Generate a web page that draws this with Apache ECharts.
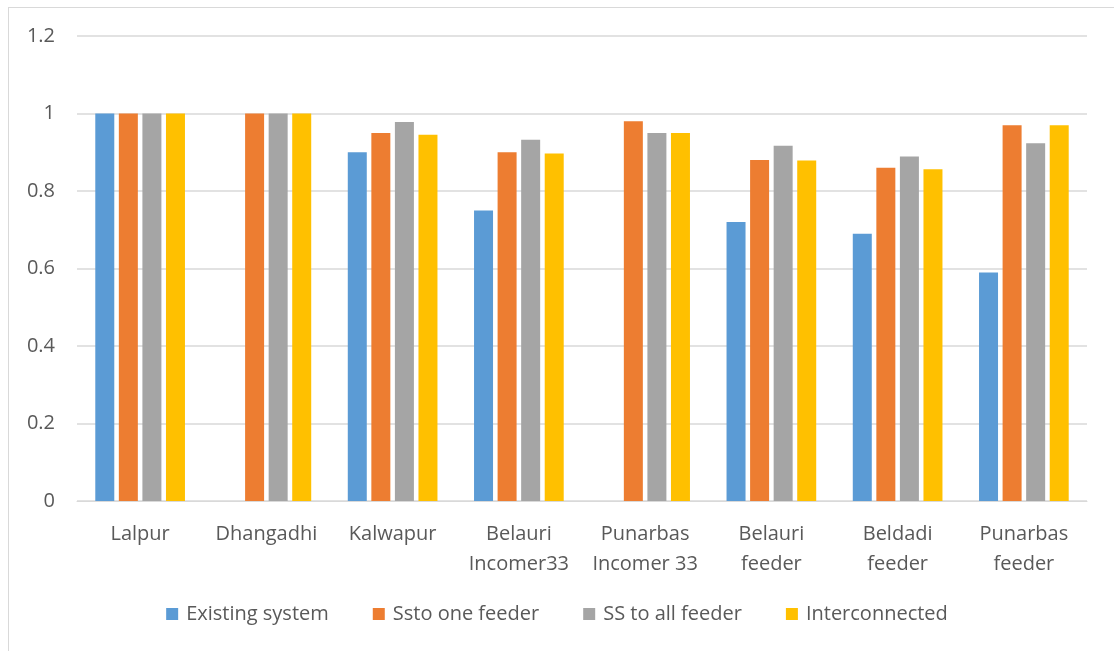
<!DOCTYPE html>
<html>
<head>
<meta charset="utf-8">
<script src="https://cdn.jsdelivr.net/npm/echarts@6/dist/echarts.min.js"></script>
<style>
  html, body { margin: 0; padding: 0; background: #fff; }
  #frame { position: absolute; left: 8px; top: 7px; width: 1120px; height: 660px; border: 1px solid #d9d9d9; }
  #chart { position: absolute; left: 0; top: 0; width: 1114px; height: 651px; }
</style>
</head>
<body>
<div id="frame"></div>
<div id="chart"></div>
<script>
var categories = ['Lalpur', 'Dhangadhi', 'Kalwapur', 'Belauri\nIncomer33', 'Punarbas\nIncomer 33', 'Belauri\nfeeder', 'Beldadi\nfeeder', 'Punarbas\nfeeder'];
var seriesNames = ['Existing system', 'Ssto one feeder', 'SS to all feeder', 'Interconnected'];
var existing = [1, null, 0.90, 0.75, null, 0.72, 0.69, 0.59];
var sstoOne = [1, 1, 0.95, 0.90, 0.98, 0.88, 0.86, 0.97];
var ssToAll = [1, 1, 0.978, 0.932, 0.95, 0.917, 0.889, 0.923];
var interconnected = [1, 1, 0.945, 0.897, 0.95, 0.879, 0.856, 0.97];
var colors = ['#5b9bd5', '#ed7d31', '#a5a5a5', '#ffc000'];

var font = "'Open Sans', 'Liberation Sans', sans-serif";
var chart = echarts.init(document.getElementById('chart'));

var allData = [existing, sstoOne, ssToAll, interconnected];
var series = [];
for (var i = 0; i < seriesNames.length; i++) {
    series.push({
        name: seriesNames[i],
        type: 'bar',
        data: allData[i],
        barWidth: 19,
        barGap: '24%',
        itemStyle: { color: colors[i] }
    });
}

chart.setOption({
    color: colors,
    animation: false,
    textStyle: { fontFamily: font },
    grid: { left: 77, right: 27, top: 36, bottom: 150 },
    legend: {
        data: seriesNames,
        bottom: 22,
        left: 'center',
        itemWidth: 12,
        itemHeight: 12,
        itemGap: 44,
        icon: 'rect',
        textStyle: { fontSize: 20, color: '#595959', fontFamily: font, padding: [0, 0, 0, 3] }
    },
    xAxis: {
        type: 'category',
        data: categories,
        axisLine: { lineStyle: { color: '#d9d9d9', width: 1 } },
        axisTick: { show: false },
        axisLabel: { fontSize: 20, color: '#595959', lineHeight: 30, margin: 18, interval: 0 }
    },
    yAxis: {
        type: 'value',
        min: 0,
        max: 1.2,
        interval: 0.2,
        axisLine: { show: false },
        axisTick: { show: false },
        splitLine: { lineStyle: { color: '#d9d9d9', width: 1.5 } },
        axisLabel: { fontSize: 20, color: '#595959', margin: 22 }
    },
    series: series
});
</script>
</body>
</html>
